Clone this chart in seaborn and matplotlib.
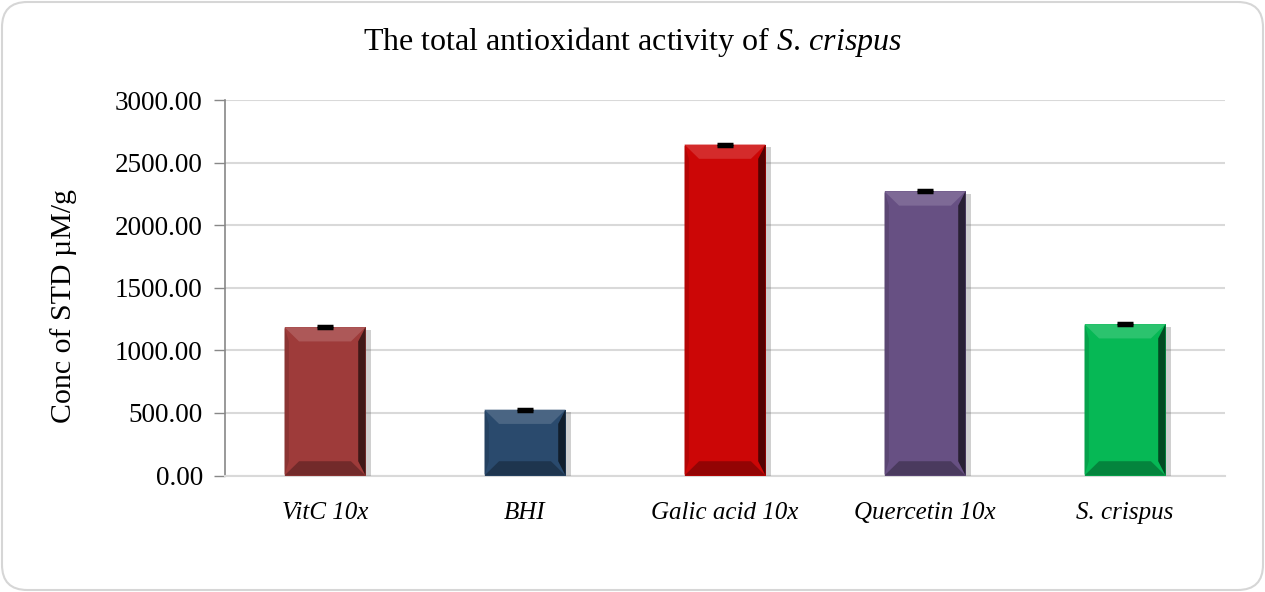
import numpy as np
import pandas as pd
import matplotlib
matplotlib.use("Agg")
import matplotlib.pyplot as plt
import seaborn as sns
from matplotlib.patches import FancyBboxPatch, Polygon
import matplotlib.patheffects as pe

categories = ["VitC 10x", "BHI", "Galic acid 10x", "Quercetin 10x", "S. crispus"]
values = [1185, 526, 2644, 2270, 1209]
errors = [8, 8, 8, 8, 8]
colors = ["#9E3B3A", "#2A4A6D", "#CC0606", "#675083", "#06B855"]
yticks = [0, 500, 1000, 1500, 2000, 2500, 3000]

sns.set_theme(style="white")
plt.rcParams['font.family'] = ['Liberation Serif', 'DejaVu Serif']
plt.rcParams['mathtext.fontset'] = 'custom'
plt.rcParams['mathtext.rm'] = 'Liberation Serif'
plt.rcParams['mathtext.it'] = 'Liberation Serif:italic'
for k in ['text.color', 'axes.labelcolor', 'xtick.labelcolor', 'ytick.labelcolor']:
    plt.rcParams[k] = 'black'

df = pd.DataFrame({"cat": categories, "val": values})

fig = plt.figure(figsize=(12.65, 5.92), dpi=100)
ax = fig.add_axes([225/1265, 1 - 475.5/592, 1000/1265, 375.5/592])

sns.barplot(data=df, x="cat", y="val", hue="cat", palette=colors, legend=False,
            width=0.405, ax=ax, zorder=3, edgecolor="none", saturation=1)

def shade(c, f):
    rgb = np.array(matplotlib.colors.to_rgb(c))
    if f > 1:
        return tuple(rgb + (1 - rgb) * (f - 1))
    return tuple(rgb * f)

# bevel decoration derived from each bar's geometry
for p, c in zip(ax.patches, colors):
    p.set_path_effects([pe.SimplePatchShadow(offset=(4, -2), shadow_rgbFace="#666666", alpha=0.3), pe.Normal()])
    x0, w, h = p.get_x(), p.get_width(), p.get_height()
    x1 = x0 + w
    bx = w * 0.18
    by = 3000 * 0.038
    top = [(x0, h), (x1, h), (x1 - bx, h - by), (x0 + bx, h - by)]
    bot = [(x0, 0), (x1, 0), (x1 - bx, by), (x0 + bx, by)]
    left = [(x0, 0), (x0 + bx * 0.3, by), (x0 + bx * 0.3, h - by), (x0, h)]
    right = [(x1, 0), (x1 - bx * 0.5, by), (x1 - bx * 0.5, h - by), (x1, h)]
    ax.add_patch(Polygon(top, closed=True, facecolor=shade(c, 1.15), edgecolor="none", zorder=4))
    ax.add_patch(Polygon(bot, closed=True, facecolor=shade(c, 0.72), edgecolor="none", zorder=4))
    ax.add_patch(Polygon(left, closed=True, facecolor=shade(c, 0.88), edgecolor="none", zorder=4))
    ax.add_patch(Polygon(right, closed=True, facecolor=shade(c, 0.4), edgecolor="none", zorder=4))

ax.errorbar(np.arange(len(categories)), values, yerr=errors, fmt="none",
            ecolor="black", elinewidth=2, capsize=6, capthick=2.5, zorder=6)

ax.set_ylim(0, 3000)
ax.set_xlim(-0.5, 4.5)
ax.set_yticks(yticks)
ax.set_yticklabels([f"{v:.2f}" for v in yticks], fontsize=19.5)
ax.tick_params(axis="y", length=8, width=1, color="#888888", left=True, direction="out", pad=8)
ax.tick_params(axis="x", length=0, pad=19)
for lab in ax.get_xticklabels():
    lab.set_fontstyle("italic")
    lab.set_fontsize(18)
ax.yaxis.grid(True, color="#d9d9d9", linewidth=1.5, zorder=0)
ax.set_axisbelow(True)
for s in ["top", "right"]:
    ax.spines[s].set_visible(False)
ax.spines["left"].set_color("#888888")
ax.spines["left"].set_linewidth(1.2)
ax.spines["bottom"].set_color("#d9d9d9")
ax.spines["bottom"].set_linewidth(1.5)
ax.set_xlabel("")
ax.set_ylabel("Conc of STD µM/g", fontsize=21.5, color="black")
ax.yaxis.set_label_coords(-0.148, 0.451)

fig.text(0.5, 1 - 42/592, "The total antioxidant activity of $\\mathit{S.\\,crispus}$",
         ha="center", va="center", fontsize=23, color="black")

border = FancyBboxPatch((2/1265, 2/592), 1 - 4/1265, 1 - 4/592,
                        boxstyle="round,pad=0,rounding_size=0.02",
                        transform=fig.transFigure, facecolor="none",
                        edgecolor="#d6d6d6", linewidth=1.5, mutation_aspect=1265/592)
fig.patches.append(border)

fig.savefig("out.png", dpi=100)
